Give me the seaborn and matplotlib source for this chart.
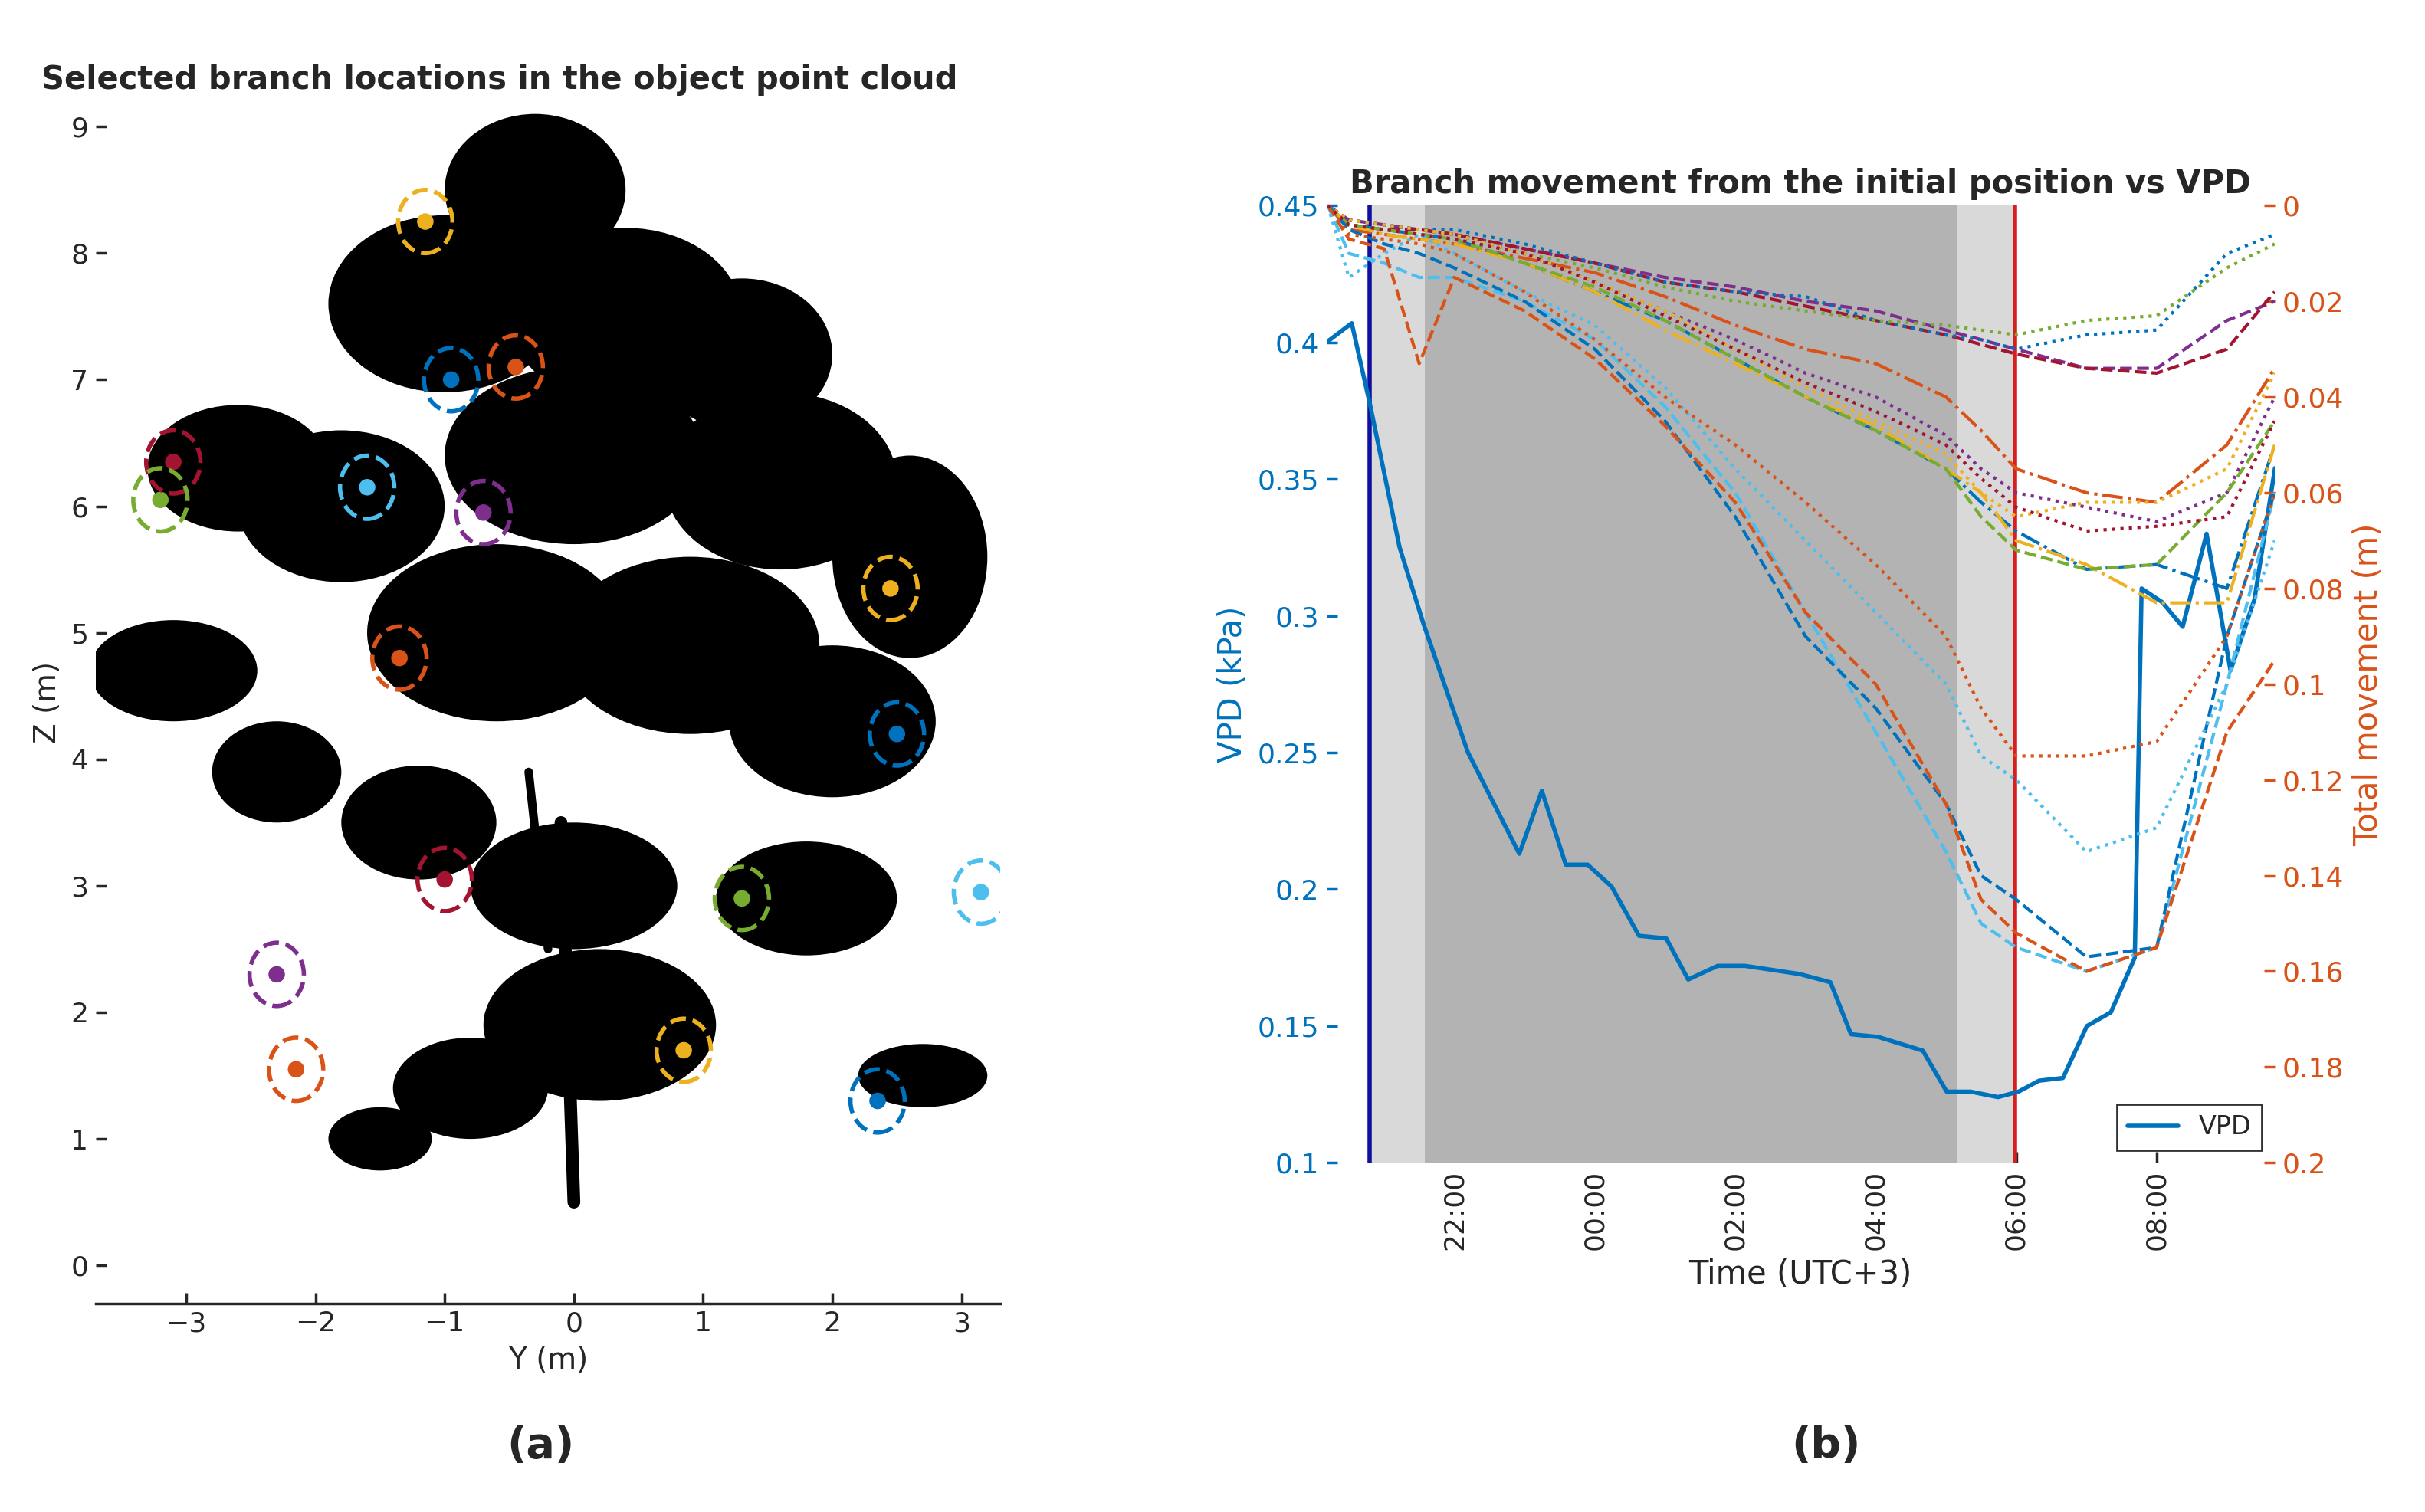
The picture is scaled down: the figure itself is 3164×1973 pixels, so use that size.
import numpy as np
import pandas as pd
import matplotlib
matplotlib.use("Agg")
import matplotlib.pyplot as plt
import seaborn as sns
from matplotlib.patches import Ellipse

sns.set_theme(style="white")
plt.rcParams['font.family'] = ['DejaVu Sans']

# ---------- data: left panel ----------
blob_y = [-0.3, -1.0, 0.4, 1.3, -2.6, -1.8, 0.0, 1.6, 2.6, -3.1, -0.6, 0.9, 2.0, -2.3, -1.2, 0.0, 1.8, 0.2, -0.8, 2.7, -1.5]
blob_z = [8.5, 7.6, 7.5, 7.2, 6.3, 6.0, 6.4, 6.2, 5.6, 4.7, 5.0, 4.9, 4.3, 3.9, 3.5, 3.0, 2.9, 1.9, 1.4, 1.5, 1.0]
blob_w = [1.4, 1.8, 1.8, 1.4, 1.4, 1.6, 2.0, 1.8, 1.2, 1.3, 2.0, 2.0, 1.6, 1.0, 1.2, 1.6, 1.4, 1.8, 1.2, 1.0, 0.8]
blob_h = [1.2, 1.4, 1.4, 1.2, 1.0, 1.2, 1.4, 1.4, 1.6, 0.8, 1.4, 1.4, 1.2, 0.8, 0.9, 1.0, 0.9, 1.2, 0.8, 0.5, 0.5]

br_y = [-1.15, -0.95, -0.45, -3.1, -3.2, -1.6, -0.7, 2.45, -1.35, 2.5, -1.0, 1.3, 3.15, -2.3, -2.15, 0.85, 2.35]
br_z = [8.25, 7.0, 7.1, 6.35, 6.05, 6.15, 5.95, 5.35, 4.8, 4.2, 3.05, 2.9, 2.95, 2.3, 1.55, 1.7, 1.3]
br_c = ['#EDB120', '#0072BD', '#D95319', '#A2142F', '#77AC30', '#4DBEEE', '#7E2F8E', '#EDB120',
        '#D95319', '#0072BD', '#A2142F', '#77AC30', '#4DBEEE', '#7E2F8E', '#D95319', '#EDB120', '#0072BD']

# ---------- data: right panel ----------
vpd_x = [168, 205, 232, 275, 310, 375, 450, 483, 518, 550, 585, 625, 665, 697, 740, 780, 860, 905, 935, 975,
         1040, 1075, 1110, 1150, 1180, 1210, 1245, 1280, 1315, 1350, 1360, 1390, 1420, 1455, 1490, 1525, 1555]
vpd_val = [0.400, 0.407, 0.377, 0.325, 0.297, 0.250, 0.213, 0.236, 0.209, 0.209, 0.201, 0.183, 0.182, 0.167,
           0.172, 0.172, 0.169, 0.166, 0.147, 0.146, 0.141, 0.126, 0.126, 0.124, 0.126, 0.130, 0.131, 0.150,
           0.155, 0.175, 0.310, 0.305, 0.296, 0.330, 0.280, 0.306, 0.354]
vpd_hours = [22 + (x - 355) / 102.7 for x in vpd_x]

mv_hours = [20.2, 20.5, 21.0, 21.5, 22.0, 23.0, 24.0, 25.0, 26.0, 27.0, 28.0, 29.0, 29.5, 30.0, 31.0, 32.0, 33.0, 33.68]
mv_series = [
    ('#7E2F8E', '--', [0, .003, .004, .005, .006, .009, .012, .015, .017, .020, .022, .026, .028, .030, .034, .034, .024, .020]),
    ('#A2142F', '--', [0, .004, .005, .005, .006, .009, .012, .016, .018, .021, .024, .027, .029, .031, .034, .035, .030, .018]),
    ('#0072BD', ':', [0, .003, .004, .005, .005, .008, .012, .016, .018, .019, .024, .027, .028, .030, .027, .026, .010, .006]),
    ('#77AC30', ':', [0, .003, .004, .005, .006, .010, .013, .017, .020, .022, .024, .025, .026, .027, .024, .023, .013, .008]),
    ('#D95319', '-.', [0, .005, .006, .007, .008, .011, .014, .019, .025, .030, .033, .040, .047, .055, .060, .062, .050, .034]),
    ('#0072BD', '-.', [0, .004, .005, .006, .007, .012, .018, .024, .032, .040, .047, .055, .062, .068, .076, .075, .080, .050]),
    ('#EDB120', '-.', [0, .004, .006, .007, .008, .012, .018, .026, .033, .040, .046, .055, .060, .070, .075, .083, .083, .050]),
    ('#7E2F8E', ':', [0, .003, .004, .005, .006, .010, .016, .022, .028, .035, .040, .048, .055, .060, .063, .066, .060, .040]),
    ('#77AC30', '--', [0, .004, .005, .006, .007, .012, .017, .024, .032, .040, .047, .055, .065, .072, .076, .075, .060, .045]),
    ('#4DBEEE', '--', [0, .010, .012, .015, .015, .020, .028, .042, .060, .085, .110, .135, .150, .155, .160, .155, .100, .060]),
    ('#0072BD', '--', [0, .005, .008, .010, .013, .020, .030, .045, .065, .090, .105, .125, .140, .145, .157, .155, .090, .060]),
    ('#D95319', '--', [0, .007, .009, .033, .015, .022, .032, .046, .062, .085, .100, .125, .145, .152, .160, .155, .110, .095]),
    ('#4DBEEE', ':', [0, .015, .010, .006, .010, .018, .025, .038, .055, .070, .085, .100, .115, .120, .135, .130, .100, .070]),
    ('#D95319', ':', [0, .006, .007, .008, .010, .018, .028, .040, .050, .062, .075, .090, .105, .115, .115, .112, .090, .060]),
    ('#EDB120', ':', [0, .003, .004, .005, .006, .010, .016, .022, .030, .038, .045, .052, .060, .065, .062, .062, .055, .035]),
    ('#A2142F', ':', [0, .004, .005, .006, .007, .010, .016, .023, .030, .037, .043, .050, .057, .063, .068, .067, .065, .045]),
]
time_ticks = [22, 24, 26, 28, 30, 32]
time_labels = ['22:00', '00:00', '02:00', '04:00', '06:00', '08:00']

# ---------- figure ----------
fig = plt.figure(figsize=(15.82, 9.865), dpi=200)

axL = fig.add_axes([0.0395, 0.138, 0.373, 0.795])
for y, z, w, h in zip(blob_y, blob_z, blob_w, blob_h):
    axL.add_patch(Ellipse((y, z), w, h, color='black', lw=0))
axL.plot([0.0, -0.1], [0.5, 3.5], color='black', lw=6)
axL.plot([-0.2, -0.35], [2.5, 3.9], color='black', lw=4)
sns.scatterplot(x=br_y, y=br_z, c=br_c, s=60, ax=axL, edgecolor='none', zorder=5)
for y, z, c in zip(br_y, br_z, br_c):
    axL.add_patch(Ellipse((y, z), 0.42, 0.5, fill=False, ec=c, ls='--', lw=2, zorder=6))
axL.set_xlim(-3.7, 3.3)
axL.set_ylim(-0.3, 9.2)
axL.set_xticks(range(-3, 4))
axL.set_yticks(range(0, 10))
for s in ['top', 'right']:
    axL.spines[s].set_visible(False)
axL.spines['left'].set_visible(False)
axL.tick_params(axis='both', labelsize=13, length=5, direction='in', left=True, bottom=True)
axL.set_xlabel('Y (m)', fontsize=14)
axL.set_ylabel('Z (m)', fontsize=14)
axL.set_title('Selected branch locations in the object point cloud', fontsize=15, fontweight='bold', loc='left', x=-0.06)

axR = fig.add_axes([0.547, 0.231, 0.391, 0.633])
axR.axvspan(20.79, 21.58, color='#d9d9d9', lw=0)
axR.axvspan(21.58, 29.16, color='#b3b3b3', lw=0)
axR.axvspan(29.16, 29.98, color='#d9d9d9', lw=0)
axR.axvline(20.79, color='#1010a0', lw=2)
axR.axvline(29.98, color='#d62020', lw=2)
sns.lineplot(x=vpd_hours, y=vpd_val, ax=axR, color='#0072BD', lw=2, label='VPD')
axR.set_xlim(20.18, 33.68)
axR.set_ylim(0.1, 0.45)
axR.set_xticks(time_ticks)
axR.set_xticklabels(time_labels, rotation=90)
axR.set_yticks([0.1, 0.15, 0.2, 0.25, 0.3, 0.35, 0.4, 0.45])
axR.set_yticklabels(['0.1', '0.15', '0.2', '0.25', '0.3', '0.35', '0.4', '0.45'])
axR.tick_params(axis='y', colors='#0072BD', labelsize=13, direction='in', length=5, left=True)
axR.tick_params(axis='x', labelsize=13, direction='in', length=5, bottom=True)
axR.set_ylabel('VPD (kPa)', color='#0072BD', fontsize=15)
axR.set_xlabel('Time (UTC+3)', fontsize=15)
axR.set_title('Branch movement from the initial position vs VPD', fontsize=15, fontweight='bold')
axR.legend(loc='lower right', fontsize=12, frameon=True, fancybox=False, edgecolor='black')

ax2 = axR.twinx()
for c, ls, vals in mv_series:
    ax2.plot(mv_hours, vals, color=c, ls=ls, lw=1.5)
ax2.set_ylim(0.2, 0)
ax2.set_yticks([0, 0.02, 0.04, 0.06, 0.08, 0.1, 0.12, 0.14, 0.16, 0.18, 0.2])
ax2.set_yticklabels(['0', '0.02', '0.04', '0.06', '0.08', '0.1', '0.12', '0.14', '0.16', '0.18', '0.2'])
ax2.tick_params(axis='y', colors='#D95319', labelsize=13, direction='in', length=5, right=True)
ax2.set_ylabel('Total movement (m)', color='#D95319', fontsize=15)
for ax in (axR, ax2):
    for s in ax.spines.values():
        s.set_visible(False)

fig.text(0.223, 0.036, '(a)', fontsize=20, fontweight='bold', ha='center')
fig.text(0.753, 0.036, '(b)', fontsize=20, fontweight='bold', ha='center')

fig.savefig('out.png', dpi=200)
